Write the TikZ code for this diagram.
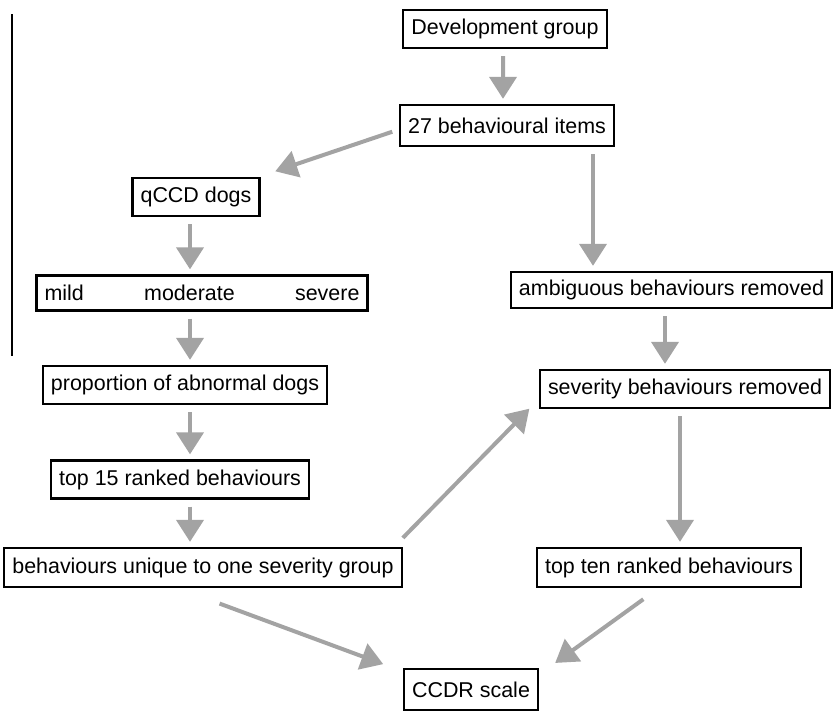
\documentclass[tikz,border=0pt]{standalone}
\usepackage{fontspec}
\setmainfont{Liberation Sans}
\usetikzlibrary{positioning,arrows.meta,calc}
\definecolor{stipple}{gray}{0.64}

\begin{document}
\begin{tikzpicture}[x=0.02cm,y=-0.02cm,font=\fontsize{12.2}{14}\selectfont,
  box/.style={draw,line width=1.3pt,fill=white,inner xsep=0.16cm,minimum height=0.76cm},
  flow/.style={-{Triangle[width=0.54cm,length=0.44cm]},line width=0.08cm,stipple,shorten <=0.14cm,shorten >=0.1cm}]
  \useasboundingbox (0,0) rectangle (834,710);
  \draw[line width=1pt] (12,14) -- (12,356);
  % left column
  \node[box,minimum width=4.08cm] (dev) at (505,29) {Development group};
  \node[box,minimum width=4.28cm,minimum height=0.82cm] (items) at (507,125.5) {27 behavioural items};
  \node[box] (qccd) at (196,197) {qCCD dogs};
  \node[box,minimum height=0.7cm,text width=6.3cm] (grades) at (202,293) {mild\hfill moderate\hfill severe};
  \node[box] (prop) at (185,385) {proportion of abnormal dogs};
  \node[box] (top15) at (180,479.5) {top 15 ranked behaviours};
  \node[box,minimum height=0.78cm] (unique) at (203,567.5) {behaviours unique to one severity group};
  % right column
  \node[box,minimum height=0.72cm] (ambig) at (671.5,290) {ambiguous behaviours removed};
  \node[box] (sevrem) at (685,389) {severity behaviours removed};
  \node[box,minimum height=0.78cm] (topten) at (669,567.5) {top ten ranked behaviours};
  \node[box,minimum height=0.82cm] (ccdr) at (471,689.5) {CCDR scale};

  \draw[flow] ([xshift=-0.04cm]dev.south) -- ([xshift=-0.08cm]items.north);
  \draw[flow] ([yshift=-0.08cm]items.west) -- ([xshift=0.2cm,yshift=0.08cm]qccd.north east);
  \draw[flow] ([xshift=1.72cm]items.south) -- ([xshift=1.72cm]items.south |- ambig.north);
  \draw[flow] ([xshift=-0.12cm]qccd.south) -- ([xshift=-0.12cm]qccd.south |- grades.north);
  \draw[flow] ([xshift=-0.24cm]grades.south) -- ([xshift=-0.24cm]grades.south |- prop.north);
  \draw[flow] ([xshift=0.1cm]prop.south) -- ([xshift=0.1cm]prop.south |- top15.north);
  \draw[flow] ([xshift=0.2cm]top15.south) -- ([xshift=0.2cm]top15.south |- unique.north);
  \draw[flow] ([xshift=-0.13cm]ambig.south) -- ([xshift=-0.13cm]ambig.south |- sevrem.north);
  \draw[flow] ([xshift=-0.1cm]sevrem.south) -- ([xshift=-0.1cm]sevrem.south |- topten.north);
  \draw[flow] ([xshift=3.9cm,yshift=0.08cm]unique.north) -- ([xshift=-0.12cm,yshift=0.08cm]sevrem.south west);
  \draw[flow] ([xshift=0.2cm,yshift=-0.26cm]unique.south) -- ([xshift=-0.3cm,yshift=0.04cm]ccdr.north west);
  \draw[flow] ([xshift=-0.4cm,yshift=-0.14cm]topten.south) -- ([xshift=0.24cm,yshift=0.04cm]ccdr.north east);
\end{tikzpicture}
\end{document}
